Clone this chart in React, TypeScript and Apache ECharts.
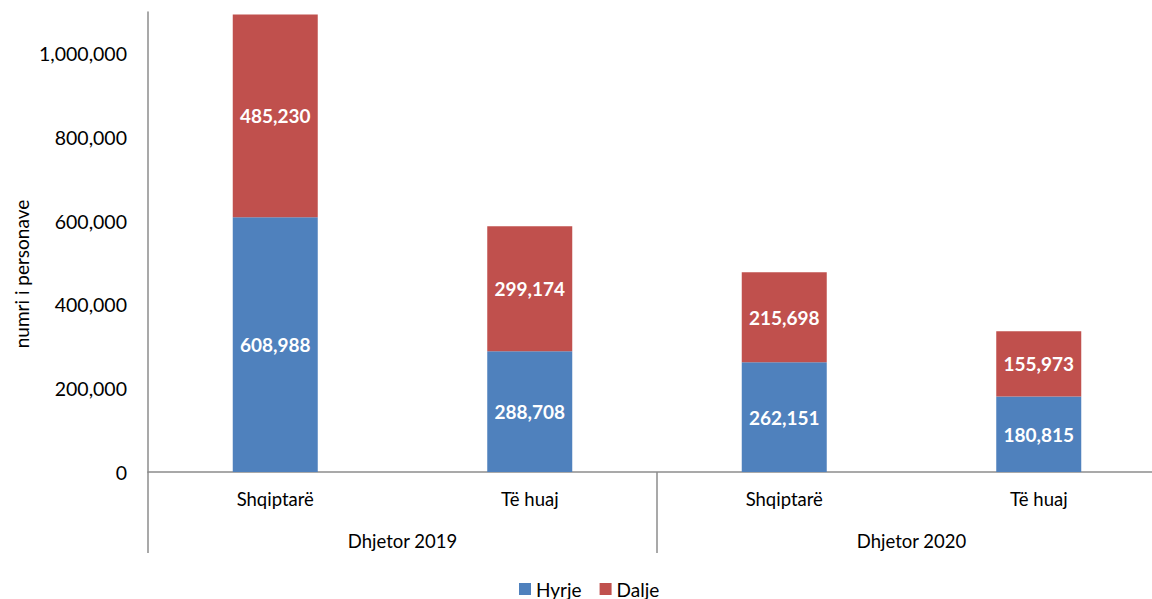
import React, { useEffect, useRef } from "react";
import * as echarts from "echarts";

const categories = ["Shqiptarë", "Të huaj", "Shqiptarë", "Të huaj"];
const groups = ["Dhjetor 2019", "Dhjetor 2020"];
const hyrje = [608988, 288708, 262151, 180815];
const dalje = [485230, 299174, 215698, 155973];
const seriesNames = ["Hyrje", "Dalje"];
const colors = ["#4F81BD", "#C0504D"];
const yAxisTitle = "numri i personave";

const FONT = "Lato";
const fmt = (v: number) => v.toLocaleString("en-US");

export default function App() {
  const ref = useRef<HTMLDivElement>(null);
  useEffect(() => {
    if (!ref.current) return;
    const chart = echarts.init(ref.current, undefined, { renderer: "svg" });
    const labelStyle = {
      show: true,
      position: "inside" as const,
      color: "#ffffff",
      fontWeight: "bold" as const,
      fontSize: 19,
      fontFamily: FONT,
      formatter: (p: any) => fmt(p.value),
    };
    chart.setOption({
      animation: false,
      backgroundColor: "#ffffff",
      textStyle: { fontFamily: FONT },
      grid: {
        left: 148,
        width: 1018,
        top: 12,
        height: 460,
        containLabel: false,
        outerBoundsMode: "none",
      },
      graphic: [
        {
          type: "text",
          x: 21,
          y: 274,
          rotation: Math.PI / 2,
          style: {
            text: yAxisTitle,
            fontSize: 19,
            fontFamily: FONT,
            fill: "#000",
            align: "center",
            verticalAlign: "middle",
          },
        },
      ],
      legend: {
        top: 579,
        left: 519,
        padding: 0,
        itemWidth: 12,
        itemHeight: 12,
        itemGap: 18,
        icon: "rect",
        textStyle: { fontSize: 19, lineHeight: 20, fontFamily: FONT, color: "#000" },
        data: seriesNames,
      },
      xAxis: [
        {
          type: "category",
          data: categories,
          position: "bottom",
          axisLine: { show: true, lineStyle: { color: "#8c8c8c", width: 1.5 } },
          axisTick: { show: false },
          axisLabel: { fontSize: 18.5, fontFamily: FONT, color: "#000", margin: 17 },
        },
        {
          type: "category",
          data: groups,
          position: "bottom",
          axisLine: { show: false },
          axisTick: { show: true, length: 81, lineStyle: { color: "#8c8c8c", width: 1.5 } },
          axisLabel: { fontSize: 18.5, fontFamily: FONT, color: "#000", margin: 59 },
        },
      ],
      yAxis: {
        type: "value",
        min: 0,
        max: 1100000,
        interval: 200000,
        axisLine: { show: true, lineStyle: { color: "#8c8c8c", width: 1.5 } },
        axisTick: { show: false },
        splitLine: { show: false },
        axisLabel: {
          fontSize: 19.5,
          fontFamily: FONT,
          color: "#000",
          margin: 21,
          formatter: (v: number) => fmt(v),
          showMaxLabel: false,
        },
      },
      series: [
        {
          name: seriesNames[0],
          type: "bar",
          stack: "total",
          barWidth: 85,
          xAxisIndex: 0,
          itemStyle: { color: colors[0] },
          label: labelStyle,
          data: hyrje,
        },
        {
          name: seriesNames[1],
          type: "bar",
          stack: "total",
          barWidth: 85,
          xAxisIndex: 0,
          itemStyle: { color: colors[1] },
          label: labelStyle,
          data: dalje,
        },
      ],
    });
    return () => chart.dispose();
  }, []);
  return (
    <div
      ref={ref}
      style={{ position: "fixed", left: 0, top: 0, width: 1152, height: 599 }}
    />
  );
}
